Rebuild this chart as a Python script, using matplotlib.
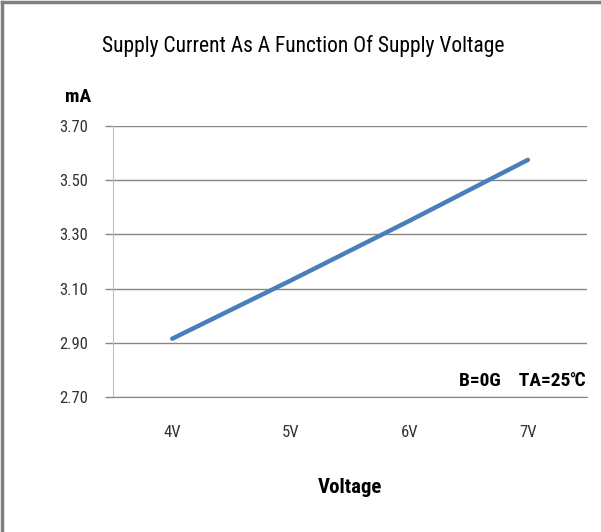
import matplotlib.pyplot as plt
from matplotlib.lines import Line2D

voltages = ['4V', '5V', '6V', '7V']
corrente = [2.915, 3.13, 3.35, 3.575]
y_ticks = [2.70, 2.90, 3.10, 3.30, 3.50, 3.70]

fonte = ['Roboto Condensed', 'DejaVu Sans']
plt.rcParams['font.family'] = fonte
plt.rcParams['font.stretch'] = 'condensed'

fig = plt.figure(figsize=(6.01, 5.32), dpi=100)
ax = fig.add_axes([0.188, 0.2538, 0.789, 0.5094])

x = range(len(voltages))
ax.plot(x, corrente, color='#4A7EBB', linewidth=3.2, solid_capstyle='round')

ax.set_xlim(-0.5, len(voltages) - 0.5)
ax.set_ylim(2.70, 3.70)
ax.set_yticks(y_ticks)
ax.set_yticklabels([f'{v:.2f}' for v in y_ticks], fontsize=12, color='#333333')
ax.set_xticks(list(x))
ax.set_xticklabels(voltages, fontsize=12, color='#333333')
ax.tick_params(axis='x', length=0, pad=20)
ax.tick_params(axis='y', length=6, color='#868686', width=1, pad=12)

ax.grid(True, axis='y', color='#868686', linewidth=1)
ax.set_axisbelow(True)
for lado in ['top', 'right']:
    ax.spines[lado].set_visible(False)
ax.spines['left'].set_color('#c0c0c0')
ax.spines['bottom'].set_color('#868686')

fig.text(0.504, 0.913, 'Supply Current As A Function Of Supply Voltage',
         ha='center', va='center', fontsize=15.5)
fig.text(0.13, 0.818, 'mA', ha='center', va='center', fontsize=14, fontweight='bold')
fig.text(0.583, 0.083, 'Voltage', ha='center', va='center', fontsize=15, fontweight='bold')
fig.text(0.974, 0.284, 'B=0G    TA=25\u2103', ha='right', va='center',
         fontsize=14, fontweight='bold')

# borda cinza em cima e na esquerda
fig.add_artist(Line2D([0.004, 0.004], [0, 0.996], transform=fig.transFigure,
                      color='#7f7f7f', linewidth=2.5))
fig.add_artist(Line2D([0.004, 1], [0.996, 0.996], transform=fig.transFigure,
                      color='#7f7f7f', linewidth=2.5))

fig.savefig('out.png', dpi=100)
